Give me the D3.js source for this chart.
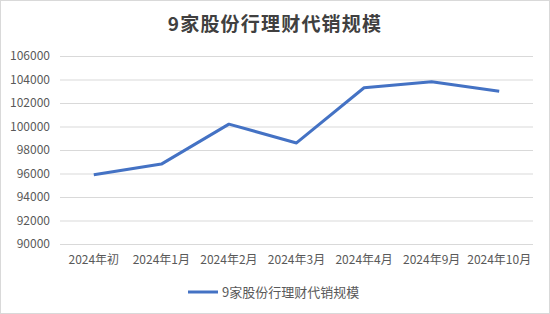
<!DOCTYPE html>
<html>
<head>
<meta charset="utf-8">
<script src="https://cdn.jsdelivr.net/npm/d3@7"></script>
<style>
  body { margin: 0; background: #fff; }
  svg { font-family: "Noto Sans CJK SC", "Noto Sans", sans-serif; }
</style>
</head>
<body>
<div id="chart"></div>
<script>
const categories = ["2024年初", "2024年1月", "2024年2月", "2024年3月", "2024年4月", "2024年9月", "2024年10月"];
const values = [95900, 96800, 100200, 98600, 103300, 103800, 103000];
const yTicks = [90000, 92000, 94000, 96000, 98000, 100000, 102000, 104000, 106000];
const seriesName = "9家股份行理财代销规模";
const title = "9家股份行理财代销规模";

const width = 550, height = 314;
const margin = { top: 56, right: 17, bottom: 70, left: 60 };

const svg = d3.select("#chart")
    .append("svg")
    .attr("width", width)
    .attr("height", height);

// chart border
svg.append("rect")
    .attr("x", 0.5).attr("y", 0.5)
    .attr("width", width - 1).attr("height", height - 1)
    .attr("fill", "#fff")
    .attr("stroke", "#d9d9d9");

svg.append("text")
    .attr("x", width / 2)
    .attr("y", 31)
    .attr("text-anchor", "middle")
    .attr("font-size", 19)
    .attr("letter-spacing", 1.2)
    .attr("font-weight", "bold")
    .attr("fill", "#404040")
    .text(title);

const x = d3.scaleBand()
    .domain(categories)
    .range([margin.left, width - margin.right]);

const y = d3.scaleLinear()
    .domain([90000, 106000])
    .range([height - margin.bottom, margin.top]);

// gridlines + y labels
const yAxis = svg.append("g")
    .attr("transform", `translate(${margin.left},0)`)
    .call(d3.axisLeft(y).tickValues(yTicks).tickSize(-(width - margin.left - margin.right)).tickPadding(10).tickFormat(d3.format("d")));
yAxis.select(".domain").remove();
yAxis.selectAll(".tick line").attr("stroke", "#d9d9d9");
yAxis.selectAll(".tick text")
    .attr("fill", "#595959")
    .attr("font-size", 12)
    .attr("font-family", "Noto Sans CJK SC, sans-serif");

// x labels
const xAxis = svg.append("g")
    .attr("transform", `translate(0,${height - margin.bottom})`)
    .call(d3.axisBottom(x).tickSize(0).tickPadding(11));
xAxis.select(".domain").remove();
xAxis.selectAll(".tick text")
    .attr("fill", "#595959")
    .attr("font-size", 12)
    .attr("font-family", "Noto Sans CJK SC, sans-serif");

const line = d3.line()
    .x((d, i) => x(categories[i]) + x.bandwidth() / 2)
    .y(d => y(d));

svg.append("path")
    .datum(values)
    .attr("fill", "none")
    .attr("stroke", "#4472C4")
    .attr("stroke-width", 3)
    .attr("stroke-linejoin", "round")
    .attr("d", line);

// legend
const legend = svg.append("g").attr("transform", "translate(188,292)");
legend.append("line")
    .attr("x1", 0).attr("x2", 30)
    .attr("stroke", "#4472C4")
    .attr("stroke-width", 3);
legend.append("text")
    .attr("x", 34)
    .attr("dy", "0.35em")
    .attr("font-size", 13)
    .attr("fill", "#595959")
    .text(seriesName);
</script>
</body>
</html>
